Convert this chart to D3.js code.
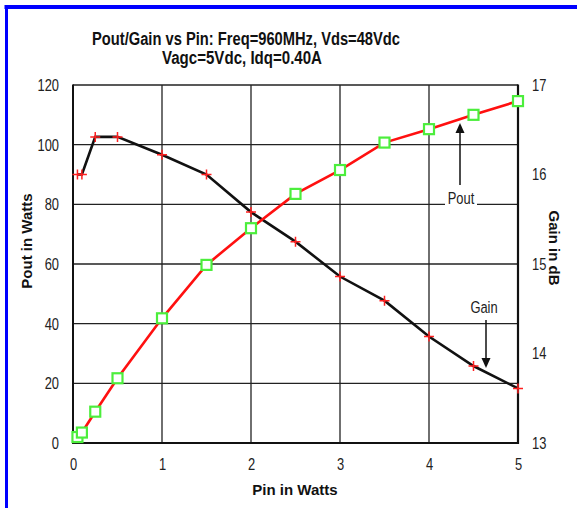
<!DOCTYPE html>
<html><head><meta charset="utf-8">
<script src="https://cdn.jsdelivr.net/npm/d3@7"></script>
<style>
html,body{margin:0;padding:0;background:#fff;}
svg{display:block;}
</style>
</head><body>
<svg id="c" width="577" height="508"></svg>
<script>
const pin = [0.05, 0.1, 0.25, 0.5, 1, 1.5, 2, 2.5, 3, 3.5, 4, 4.5, 5];
const pout = [2, 3.5, 10.5, 21.7, 41.8, 59.7, 72, 83.5, 91.5, 100.7, 105.2, 110, 114.6];
const gain = [16.0, 16.0, 16.42, 16.42, 16.22, 16.0, 15.58, 15.25, 14.86, 14.59, 14.19, 13.86, 13.61];
const xTicks = [0, 1, 2, 3, 4, 5];
const poutTicks = [0, 20, 40, 60, 80, 100, 120];
const gainTicks = [13, 14, 15, 16, 17];
const titleLines = ["Pout/Gain vs Pin: Freq=960MHz, Vds=48Vdc", "Vagc=5Vdc, Idq=0.40A"];

const svg = d3.select("#c");
const FONT = "'Liberation Sans',Arial,sans-serif";
const SX = 0.76; // horizontal condensing to mimic a narrow face
const L = 73, R = 518, T = 85, B = 443;
const x = d3.scaleLinear().domain([0, 5]).range([L, R]);
const yP = d3.scaleLinear().domain([0, 120]).range([B, T]);
const yG = d3.scaleLinear().domain([13, 17]).range([B, T]);

function narrowText(g, px, py, str, anchor, size, weight) {
  return g.append("text")
    .attr("transform", `translate(${px},${py}) scale(${SX},1)`)
    .attr("text-anchor", anchor)
    .attr("font-family", FONT).attr("font-size", size)
    .attr("font-weight", weight || "normal")
    .attr("fill", "#222").text(str);
}

// blue frame
svg.append("line").attr("x1", 4.5).attr("x2", 577).attr("y1", 7).attr("y2", 7)
  .attr("stroke", "#0000ff").attr("stroke-width", 4);
svg.append("line").attr("x1", 6.5).attr("x2", 6.5).attr("y1", 5).attr("y2", 508)
  .attr("stroke", "#0000ff").attr("stroke-width", 3);

// title
svg.selectAll("text.title").data(titleLines).join("text")
  .attr("class", "title")
  .attr("x", (d, i) => i === 0 ? 246 : 242)
  .attr("y", (d, i) => 45 + i * 19)
  .attr("text-anchor", "middle")
  .attr("font-family", FONT).attr("font-weight", "bold").attr("font-size", 18)
  .attr("fill", "#111")
  .attr("textLength", (d, i) => i === 0 ? 308 : 160)
  .attr("lengthAdjust", "spacingAndGlyphs")
  .text(d => d);

// gridlines
const grid = svg.append("g");
grid.selectAll("line.gx").data(xTicks).join("line")
  .attr("class", "gx")
  .attr("x1", d => x(d)).attr("x2", d => x(d)).attr("y1", T).attr("y2", B)
  .attr("stroke", "#222").attr("stroke-width", 1.3);
grid.selectAll("line.gy").data(poutTicks).join("line")
  .attr("class", "gy")
  .attr("x1", L).attr("x2", R).attr("y1", d => yP(d)).attr("y2", d => yP(d))
  .attr("stroke", "#222").attr("stroke-width", 1.3);
svg.append("line").attr("x1", L).attr("x2", L).attr("y1", T - 0.5).attr("y2", B + 1).attr("stroke", "#111").attr("stroke-width", 2);
svg.append("line").attr("x1", R).attr("x2", R).attr("y1", T - 0.5).attr("y2", B + 1).attr("stroke", "#111").attr("stroke-width", 2.2);
svg.append("line").attr("x1", L - 1).attr("x2", R + 1).attr("y1", B).attr("y2", B).attr("stroke", "#111").attr("stroke-width", 2.2);

function condense(g) {
  g.select(".domain").remove();
  g.selectAll(".tick text").each(function () {
    const t = d3.select(this);
    const tx = +t.attr("x") || 0;
    t.attr("x", tx / SX).attr("transform", `scale(${SX},1)`)
      .attr("font-family", FONT).attr("font-size", 17).attr("fill", "#222");
  });
}
svg.append("g").attr("transform", `translate(${L},0)`)
  .call(d3.axisLeft(yP).tickValues(poutTicks).tickFormat(d3.format("d")).tickSize(0).tickPadding(14))
  .call(condense);
svg.append("g").attr("transform", `translate(${R},0)`)
  .call(d3.axisRight(yG).tickValues(gainTicks).tickFormat(d3.format("d")).tickSize(0).tickPadding(14))
  .call(condense);
svg.append("g").attr("transform", `translate(0,${B})`)
  .call(d3.axisBottom(x).tickValues(xTicks).tickFormat(d3.format("d")).tickSize(0).tickPadding(15))
  .call(condense);

// axis titles
svg.append("text").attr("transform", "translate(32,241) rotate(-90)")
  .attr("text-anchor", "middle").attr("font-family", FONT).attr("font-weight", "bold")
  .attr("font-size", 15).attr("fill", "#111").text("Pout in Watts");
svg.append("text").attr("transform", "translate(549,248) rotate(90)")
  .attr("text-anchor", "middle").attr("font-family", FONT).attr("font-weight", "bold")
  .attr("font-size", 15).attr("fill", "#111").text("Gain in dB");
svg.append("text").attr("x", 295).attr("y", 495)
  .attr("text-anchor", "middle").attr("font-family", FONT).attr("font-weight", "bold")
  .attr("font-size", 15).attr("fill", "#111").text("Pin in Watts");

// series
const dataP = pin.map((p, i) => ({p, v: pout[i]}));
const dataG = pin.map((p, i) => ({p, v: gain[i]}));

svg.append("path").datum(dataG)
  .attr("d", d3.line().x(d => x(d.p)).y(d => yG(d.v)))
  .attr("fill", "none").attr("stroke", "#111").attr("stroke-width", 2.6);
svg.append("path").datum(dataP)
  .attr("d", d3.line().x(d => x(d.p)).y(d => yP(d.v)))
  .attr("fill", "none").attr("stroke", "#ff1010").attr("stroke-width", 2.6);

svg.selectAll("rect.sq").data(dataP).join("rect")
  .attr("class", "sq")
  .attr("x", d => x(d.p) - 5).attr("y", d => yP(d.v) - 5)
  .attr("width", 10).attr("height", 10)
  .attr("fill", "#fff").attr("stroke", "#4cee3c").attr("stroke-width", 2.2);

svg.selectAll("path.cross").data(dataG).join("path")
  .attr("class", "cross")
  .attr("d", d => {
    const cx = x(d.p), cy = yG(d.v);
    return `M${cx - 5},${cy}H${cx + 5}M${cx},${cy - 5}V${cy + 5}`;
  })
  .attr("stroke", "#ff2020").attr("stroke-width", 1.5).attr("fill", "none");

// annotations
svg.append("rect").attr("x", 445).attr("y", 189).attr("width", 32).attr("height", 17).attr("fill", "#fff");
narrowText(svg, 461, 204, "Pout", "middle", 17);
svg.append("line").attr("x1", 460).attr("x2", 460).attr("y1", 185).attr("y2", 130)
  .attr("stroke", "#111").attr("stroke-width", 1.5);
svg.append("path").attr("d", "M460,123L455.5,133L464.5,133Z").attr("fill", "#111");

narrowText(svg, 484, 313, "Gain", "middle", 17);
svg.append("line").attr("x1", 486).attr("x2", 486).attr("y1", 320).attr("y2", 360)
  .attr("stroke", "#111").attr("stroke-width", 1.5);
svg.append("path").attr("d", "M486,368L481.5,358L490.5,358Z").attr("fill", "#111");
</script>
</body></html>
